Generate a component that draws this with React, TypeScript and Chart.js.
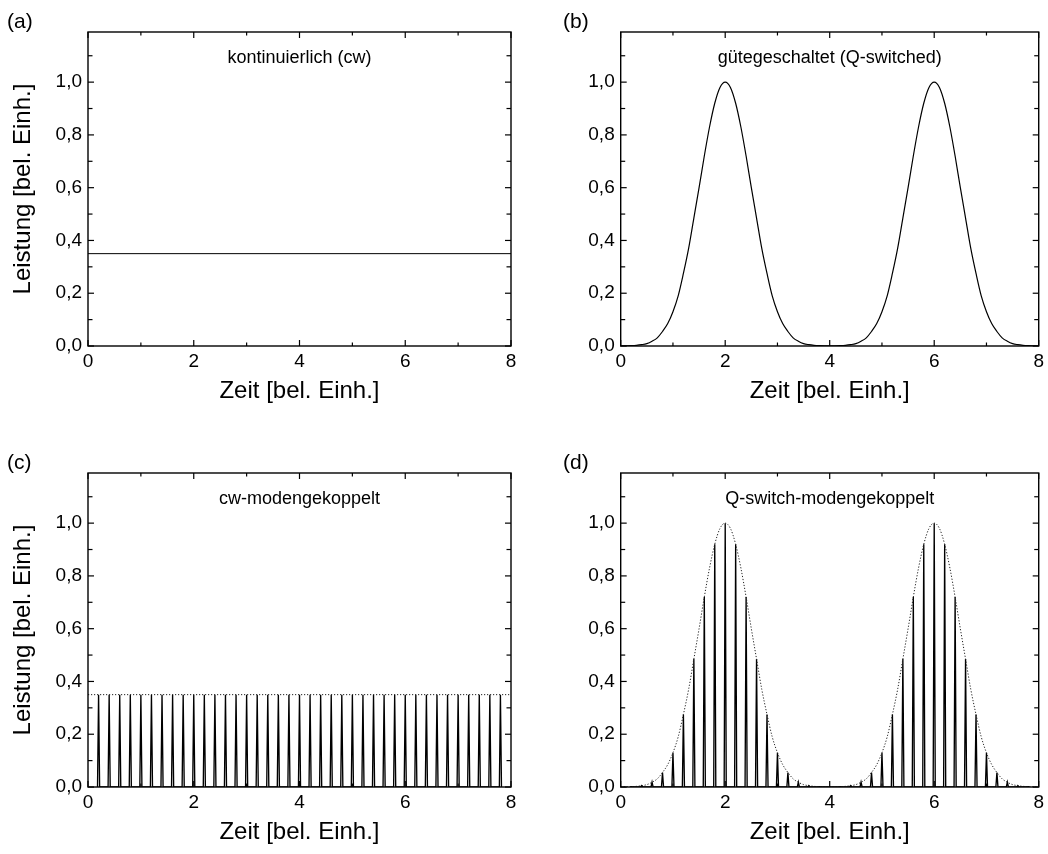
import React, { useEffect, useRef } from 'react';
import { Chart, registerables } from 'chart.js';

Chart.register(...registerables);

// ---------- tick values ----------
const xMajorTicks = [0, 2, 4, 6, 8];
const xMinorTicks = [1, 3, 5, 7];
const yMajorTicks = [0, 0.2, 0.4, 0.6, 0.8, 1.0];
const yMinorTicks = [0.1, 0.3, 0.5, 0.7, 0.9, 1.1];

// ---------- texts ----------
const panelLabels = ['(a)', '(b)', '(c)', '(d)'];
const panelTitles = [
  'kontinuierlich (cw)',
  'gütegeschaltet (Q-switched)',
  'cw-modengekoppelt',
  'Q-switch-modengekoppelt',
];
const xAxisTitle = 'Zeit [bel. Einh.]';
const yAxisTitle = 'Leistung [bel. Einh.]';

// ---------- data ----------
// (a) continuous wave
const cwTime = [0, 8];
const cwPower = [0.35, 0.35];

// (b) Q-switched envelope (also dotted envelope in (d))
const envTime = [
  0.0, 0.1, 0.2, 0.3, 0.4, 0.5, 0.6, 0.7, 0.8, 0.9,
  1.0, 1.1, 1.2, 1.3, 1.4, 1.5, 1.6, 1.7, 1.8, 1.9,
  2.0, 2.1, 2.2, 2.3, 2.4, 2.5, 2.6, 2.7, 2.8, 2.9,
  3.0, 3.1, 3.2, 3.3, 3.4, 3.5, 3.6, 3.7, 3.8, 3.9,
  4.0, 4.1, 4.2, 4.3, 4.4, 4.5, 4.6, 4.7, 4.8, 4.9,
  5.0, 5.1, 5.2, 5.3, 5.4, 5.5, 5.6, 5.7, 5.8, 5.9,
  6.0, 6.1, 6.2, 6.3, 6.4, 6.5, 6.6, 6.7, 6.8, 6.9,
  7.0, 7.1, 7.2, 7.3, 7.4, 7.5, 7.6, 7.7, 7.8, 7.9,
  8.0,
];
const envPower = [
  0.0002, 0.0005, 0.0012, 0.0025, 0.005, 0.009, 0.018, 0.031, 0.055, 0.085,
  0.13, 0.19, 0.275, 0.37, 0.485, 0.6, 0.72, 0.83, 0.92, 0.98,
  1.0, 0.98, 0.92, 0.83, 0.72, 0.6, 0.485, 0.37, 0.275, 0.19,
  0.13, 0.085, 0.055, 0.031, 0.018, 0.009, 0.005, 0.0025, 0.0012, 0.0005,
  0.0004, 0.0005, 0.0012, 0.0025, 0.005, 0.009, 0.018, 0.031, 0.055, 0.085,
  0.13, 0.19, 0.275, 0.37, 0.485, 0.6, 0.72, 0.83, 0.92, 0.98,
  1.0, 0.98, 0.92, 0.83, 0.72, 0.6, 0.485, 0.37, 0.275, 0.19,
  0.13, 0.085, 0.055, 0.031, 0.018, 0.009, 0.005, 0.0025, 0.0012, 0.0005,
  0.0002,
];

// (c), (d) mode-locked pulse train
const pulseTime = [
  0.2, 0.4, 0.6, 0.8, 1.0, 1.2, 1.4, 1.6, 1.8, 2.0,
  2.2, 2.4, 2.6, 2.8, 3.0, 3.2, 3.4, 3.6, 3.8, 4.0,
  4.2, 4.4, 4.6, 4.8, 5.0, 5.2, 5.4, 5.6, 5.8, 6.0,
  6.2, 6.4, 6.6, 6.8, 7.0, 7.2, 7.4, 7.6, 7.8,
];
const cwPulsePower = [
  0.35, 0.35, 0.35, 0.35, 0.35, 0.35, 0.35, 0.35, 0.35, 0.35,
  0.35, 0.35, 0.35, 0.35, 0.35, 0.35, 0.35, 0.35, 0.35, 0.35,
  0.35, 0.35, 0.35, 0.35, 0.35, 0.35, 0.35, 0.35, 0.35, 0.35,
  0.35, 0.35, 0.35, 0.35, 0.35, 0.35, 0.35, 0.35, 0.35,
];
const qPulsePower = [
  0.0012, 0.005, 0.018, 0.055, 0.13, 0.275, 0.485, 0.72, 0.92, 1.0,
  0.92, 0.72, 0.485, 0.275, 0.13, 0.055, 0.018, 0.005, 0.0012, 0.0004,
  0.0012, 0.005, 0.018, 0.055, 0.13, 0.275, 0.485, 0.72, 0.92, 1.0,
  0.92, 0.72, 0.485, 0.275, 0.13, 0.055, 0.018, 0.005, 0.0012,
];

// ---------- helpers ----------
const FONT = '"Liberation Sans", Arial, sans-serif';
const PULSE_HALF_WIDTH = 0.02;

const toPoints = (xs: number[], ys: number[]) => xs.map((x, i) => ({ x, y: ys[i] }));
const pulsePoints = (xs: number[], hs: number[]) => {
  const pts: { x: number; y: number }[] = [];
  xs.forEach((c, i) => {
    pts.push({ x: c - PULSE_HALF_WIDTH, y: 0 });
    pts.push({ x: c, y: hs[i] });
    pts.push({ x: c + PULSE_HALF_WIDTH, y: 0 });
  });
  return pts;
};

const fmt = (v: number) => v.toFixed(1).replace('.', ',');

const CANVAS_H = 413;
const PLOT_TOP = 32;
const PLOT_BOTTOM = 346;

type PanelSpec = {
  idx: number;
  left: number;
  top: number;
  width: number;
  plotLeft: number;
  plotRight: number;
  labelX: number;
  showYTitle: boolean;
  datasets: any[];
};

const solid = (data: any[], width = 1.1) => ({
  data,
  borderColor: '#000',
  borderWidth: width,
  pointRadius: 0,
  tension: 0,
  fill: false,
});

const dotted = (data: any[]) => ({
  data,
  borderColor: '#222',
  borderWidth: 1,
  borderDash: [1.2, 1.8],
  pointRadius: 0,
  tension: 0,
  fill: false,
});

function buildPanels(): PanelSpec[] {
  return [
    {
      idx: 0, left: 0, top: 0, width: 524, plotLeft: 88, plotRight: 511, labelX: 7, showYTitle: true,
      datasets: [solid(toPoints(cwTime, cwPower), 1)],
    },
    {
      idx: 1, left: 524, top: 0, width: 524, plotLeft: 96.7, plotRight: 519, labelX: 39, showYTitle: false,
      datasets: [{ ...solid(toPoints(envTime, envPower), 1.2), cubicInterpolationMode: 'monotone' }],
    },
    {
      idx: 2, left: 0, top: 441, width: 524, plotLeft: 88, plotRight: 511, labelX: 7, showYTitle: true,
      datasets: [dotted(toPoints(cwTime, cwPower)), solid(pulsePoints(pulseTime, cwPulsePower), 1.35)],
    },
    {
      idx: 3, left: 524, top: 441, width: 524, plotLeft: 96.7, plotRight: 519, labelX: 39, showYTitle: false,
      datasets: [
        { ...dotted(toPoints(envTime, envPower)), cubicInterpolationMode: 'monotone' },
        solid(pulsePoints(pulseTime, qPulsePower), 1.35),
      ],
    },
  ];
}

function Panel({ spec }: { spec: PanelSpec }) {
  const ref = useRef<HTMLCanvasElement | null>(null);

  useEffect(() => {
    if (!ref.current) return;
    const framePlugin = {
      id: 'frameTicks',
      afterDatasetsDraw(chart: any) {
        const { ctx, chartArea: a, scales } = chart;
        const xs = scales.x;
        const ys = scales.y;
        ctx.save();
        ctx.strokeStyle = '#000';
        ctx.lineWidth = 1.4;
        ctx.strokeRect(a.left, a.top, a.right - a.left, a.bottom - a.top);
        ctx.lineWidth = 1.2;
        const seg = (x1: number, y1: number, x2: number, y2: number) => {
          ctx.beginPath();
          ctx.moveTo(x1, y1);
          ctx.lineTo(x2, y2);
          ctx.stroke();
        };
        const xt = (vals: number[], len: number) =>
          vals.forEach((v) => {
            const px = xs.getPixelForValue(v);
            seg(px, a.bottom, px, a.bottom - len);
            seg(px, a.top, px, a.top + len);
          });
        const yt = (vals: number[], len: number) =>
          vals.forEach((v) => {
            const py = ys.getPixelForValue(v);
            seg(a.left, py, a.left + len, py);
            seg(a.right, py, a.right - len, py);
          });
        xt(xMajorTicks, 6);
        xt(xMinorTicks, 3.5);
        yt(yMajorTicks, 6);
        yt(yMinorTicks, 4.5);
        ctx.restore();
      },
      afterDraw(chart: any) {
        const { ctx, scales } = chart;
        ctx.save();
        ctx.fillStyle = '#000';
        ctx.font = `21px ${FONT}`;
        ctx.textAlign = 'left';
        ctx.textBaseline = 'alphabetic';
        ctx.fillText(panelLabels[spec.idx], spec.labelX, 28);
        ctx.font = `18px ${FONT}`;
        ctx.textAlign = 'center';
        ctx.textBaseline = 'middle';
        ctx.fillText(panelTitles[spec.idx], scales.x.getPixelForValue(4), scales.y.getPixelForValue(1.09));
        ctx.restore();
      },
    };

    const chart = new Chart(ref.current, {
      type: 'line',
      data: { datasets: spec.datasets },
      plugins: [framePlugin],
      options: {
        animation: false,
        responsive: false,
        devicePixelRatio: 1,
        parsing: false as any,
        normalized: true,
        layout: {
          padding: { top: PLOT_TOP, right: spec.width - spec.plotRight, left: 0, bottom: 0 },
        },
        plugins: {
          legend: { display: false },
          tooltip: { enabled: false },
          title: { display: false },
        },
        scales: {
          x: {
            type: 'linear',
            min: 0,
            max: 8,
            grid: { display: false, drawTicks: false },
            border: { display: false },
            ticks: {
              stepSize: 2,
              padding: 4,
              color: '#000',
              font: { family: FONT, size: 19 },
              maxRotation: 0,
              callback: (v: any) => (xMajorTicks.includes(Number(v)) ? String(v) : ''),
            },
            title: {
              display: true,
              text: xAxisTitle,
              color: '#000',
              font: { family: FONT, size: 24 },
              padding: { top: 0, bottom: 7 },
            },
            afterFit: (scale: any) => {
              scale.height = CANVAS_H - PLOT_BOTTOM;
            },
          },
          y: {
            type: 'linear',
            min: 0,
            max: 1.19,
            grid: { display: false, drawTicks: false },
            border: { display: false },
            ticks: {
              stepSize: 0.2,
              includeBounds: false,
              padding: 6,
              color: '#000',
              font: { family: FONT, size: 19 },
              callback: (v: any) => {
                const n = Number(v);
                return yMajorTicks.some((t) => Math.abs(t - n) < 1e-6) ? fmt(n) : '';
              },
            },
            title: {
              display: spec.showYTitle,
              text: yAxisTitle,
              color: '#000',
              font: { family: FONT, size: 24 },
              padding: { top: 9, bottom: 0 },
            },
            afterFit: (scale: any) => {
              scale.width = spec.plotLeft;
            },
          },
        },
      } as any,
    });
    return () => chart.destroy();
  }, [spec]);

  return (
    <canvas
      ref={ref}
      width={spec.width}
      height={CANVAS_H}
      style={{ position: 'absolute', left: spec.left, top: spec.top, width: spec.width, height: CANVAS_H }}
    />
  );
}

const PANELS = buildPanels();

export default function App() {
  return (
    <div style={{ position: 'absolute', left: 0, top: 0, width: 1048, height: 854, background: '#fff', overflow: 'hidden' }}>
      {PANELS.map((p) => (
        <Panel key={p.idx} spec={p} />
      ))}
    </div>
  );
}
